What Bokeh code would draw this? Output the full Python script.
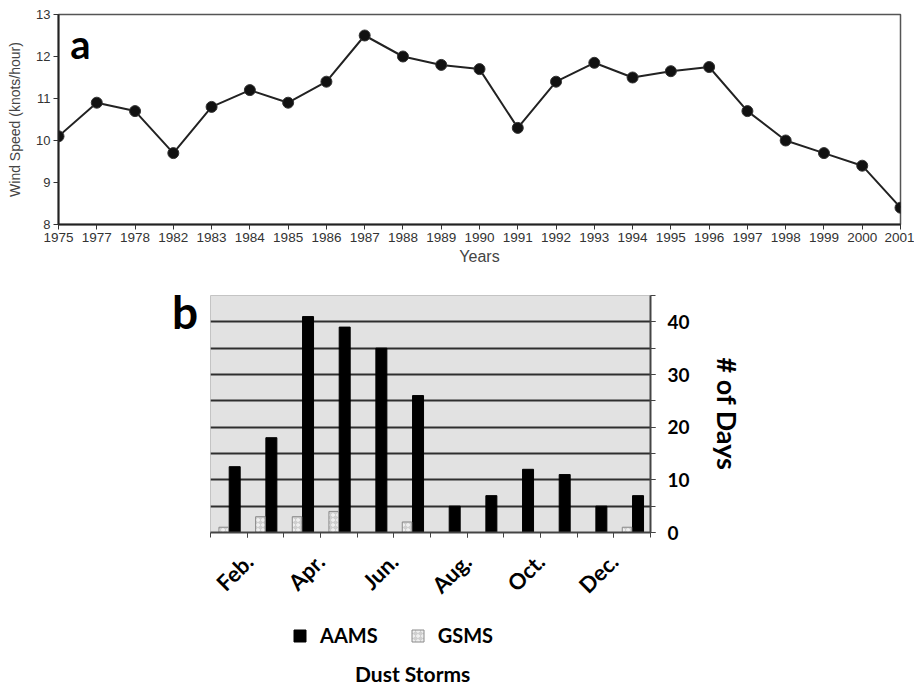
import math
from bokeh.plotting import figure
from bokeh.layouts import column, row
from bokeh.models import (FixedTicker, Range1d, Label, Legend, LegendItem,
                          ColumnDataSource, Div, Spacer)
from bokeh.transform import dodge
from bokeh.embed import file_html
from bokeh.resources import INLINE

# ---------------- data ----------------
years = ["1975", "1977", "1978", "1982", "1983", "1984", "1985", "1986", "1987",
         "1988", "1989", "1990", "1991", "1992", "1993", "1994", "1995", "1996",
         "1997", "1998", "1999", "2000", "2001"]
wind_speed = [10.1, 10.9, 10.7, 9.7, 10.8, 11.2, 10.9, 11.4, 12.5, 12.0, 11.8,
              11.7, 10.3, 11.4, 11.85, 11.5, 11.65, 11.75, 10.7, 10.0, 9.7, 9.4, 8.4]
wind_ticks = [8, 9, 10, 11, 12, 13]

months = ["Jan.", "Feb.", "Mar.", "Apr.", "May", "Jun.", "Jul.", "Aug.",
          "Sep.", "Oct.", "Nov.", "Dec."]
aams = [12.5, 18, 41, 39, 35, 26, 5, 7, 12, 11, 5, 7]
gsms = [1, 3, 3, 4, 0, 2, 0, 0, 0, 0, 0, 1]
days_ticks = [0, 10, 20, 30, 40]
days_grid = [0, 5, 10, 15, 20, 25, 30, 35, 40]

SANS = "Liberation Sans"
BOLD = "Lato"

# ---------------- panel a ----------------
xi = list(range(len(years)))
pa = figure(width=914, height=272, x_range=Range1d(0, len(years) - 1),
            y_range=Range1d(8, 13), output_backend="svg", toolbar_location=None,
            min_border_left=58, min_border_right=14, min_border_top=14,
            min_border_bottom=48)
pa.grid.visible = False
pa.outline_line_color = "#555555"
pa.outline_line_width = 1.5

pa.line(xi, wind_speed, line_color="#222222", line_width=2)
pa.scatter(xi, wind_speed, size=11, fill_color="#111111", line_color="#333333")

pa.xaxis.ticker = FixedTicker(ticks=xi)
pa.xaxis.major_label_overrides = {i: y for i, y in zip(xi, years)}
pa.yaxis.ticker = FixedTicker(ticks=wind_ticks)
pa.xaxis.minor_tick_line_color = None
pa.yaxis.minor_tick_line_color = None
for ax in (pa.xaxis[0], pa.yaxis[0]):
    ax.axis_line_color = "#222222"
    ax.axis_line_width = 2
    ax.major_tick_line_color = "#333333"
    ax.major_tick_in = 0
    ax.major_tick_out = 5
    ax.major_label_text_font = SANS
    ax.major_label_text_color = "#333333"
    ax.axis_label_text_font = SANS
    ax.axis_label_text_font_style = "normal"
    ax.axis_label_text_color = "#444444"
pa.xaxis.major_label_text_font_size = "13.5px"
pa.yaxis.major_label_text_font_size = "13px"
pa.xaxis.major_label_standoff = 3
pa.yaxis.major_label_standoff = 3
pa.xaxis.axis_label = "Years"
pa.xaxis.axis_label_text_font_size = "16px"
pa.xaxis.axis_label_standoff = 3
pa.yaxis.axis_label = "Wind Speed (knots/hour)"
pa.yaxis.axis_label_text_font_size = "14px"
pa.yaxis.axis_label_standoff = 10

pa.add_layout(Label(x=0.31, y=12.3, text="a", text_font=BOLD,
                    text_font_style="bold", text_font_size="40px",
                    text_color="black", text_baseline="alphabetic"))

# ---------------- panel b ----------------
src = ColumnDataSource(dict(m=list(range(1, 13)), aams=aams, gsms=gsms))
pb = figure(width=540, height=338, x_range=Range1d(0.5, 12.5),
            y_range=Range1d(0, 45), y_axis_location="right",
            output_backend="svg", toolbar_location=None,
            min_border_left=0, min_border_right=100, min_border_top=23,
            min_border_bottom=75, background_fill_color="#e2e2e2")
pb.outline_line_color = "#c4c4c4"
pb.outline_line_width = 1
pb.xgrid.visible = False
pb.ygrid.ticker = FixedTicker(ticks=days_grid)
pb.ygrid.grid_line_color = "#2e2e2e"
pb.ygrid.grid_line_width = 2

bar_kw_a = dict(fill_color="black", line_color="black")
bar_kw_g = dict(fill_color="#cfcfcf", line_color="#8a8a8a", hatch_pattern="ring",
                hatch_color="white", hatch_scale=5, hatch_weight=1)
pb.vbar(x=dodge("m", 0.16, range=pb.x_range), top="aams", width=0.3,
        source=src, **bar_kw_a)
pb.vbar(x=dodge("m", -0.14, range=pb.x_range), top="gsms", width=0.26,
        source=src, **bar_kw_g)

label_pos = [i + 0.5 for i in range(1, 12, 2)]
pb.xaxis.ticker = FixedTicker(ticks=label_pos,
                              minor_ticks=[i + 0.5 for i in range(0, 13)])
pb.xaxis.major_label_overrides = {p: months[i] for p, i in zip(label_pos, range(1, 12, 2))}
pb.xaxis.major_label_orientation = math.pi / 4
pb.yaxis.ticker = FixedTicker(ticks=days_ticks, minor_ticks=days_grid + [45])
for ax in (pb.xaxis[0], pb.yaxis[0]):
    ax.axis_line_color = "#444444"
    ax.axis_line_width = 2
    ax.major_tick_line_color = "#444444"
    ax.minor_tick_line_color = "#444444"
    ax.major_tick_in = 0
    ax.minor_tick_in = 0
    ax.major_tick_out = 5
    ax.minor_tick_out = 5
    ax.major_label_text_font = BOLD
    ax.major_label_text_font_style = "bold"
    ax.major_label_text_color = "black"
pb.xaxis.major_label_text_font_size = "22px"
pb.xaxis.major_label_standoff = 20
pb.yaxis.major_label_text_font_size = "19px"
pb.yaxis.major_label_standoff = 12
pb.yaxis.axis_label = "# of Days"
pb.yaxis.axis_label_text_font = BOLD
pb.yaxis.axis_label_text_font_style = "bold"
pb.yaxis.axis_label_text_font_size = "27px"
pb.yaxis.axis_label_text_color = "black"
pb.yaxis.axis_label_standoff = 18

# legend in its own small figure
pl = figure(width=260, height=50, x_range=Range1d(0, 1), y_range=Range1d(0, 1),
            output_backend="svg", toolbar_location=None,
            min_border_left=0, min_border_right=0, min_border_top=0,
            min_border_bottom=0)
pl.axis.visible = False
pl.grid.visible = False
pl.outline_line_color = None
la = pl.vbar(x=[-5], top=[0], width=0.1, **bar_kw_a)
lg = pl.vbar(x=[-5], top=[0], width=0.1, **bar_kw_g)
legend = Legend(items=[LegendItem(label="AAMS", renderers=[la]),
                       LegendItem(label="GSMS", renderers=[lg])],
                orientation="horizontal", location="left",
                glyph_width=15, glyph_height=15, label_standoff=13, spacing=32,
                padding=4, margin=12, border_line_color=None,
                background_fill_alpha=0,
                label_text_font=BOLD, label_text_font_style="bold",
                label_text_font_size="20px", label_text_color="black")
pl.add_layout(legend, "center")

div_b = Div(text="b", width=46, height=338, margin=0,
            styles={"font-family": BOLD, "font-weight": "bold",
                    "font-size": "46px", "line-height": "46px",
                    "padding-top": "17px", "padding-left": "8px",
                    "color": "black"})
div_title = Div(text="Dust Storms", width=220, height=28, margin=0,
                styles={"font-family": BOLD, "font-weight": "bold",
                        "font-size": "21px", "line-height": "28px",
                        "color": "black"})

layout = column(
    row(pa),
    row(Spacer(width=164, height=10), div_b, pb),
    row(Spacer(width=280, height=10), pl),
    row(Spacer(width=355, height=10), div_title),
)
open("out.html", "w").write(file_html(layout, INLINE))
